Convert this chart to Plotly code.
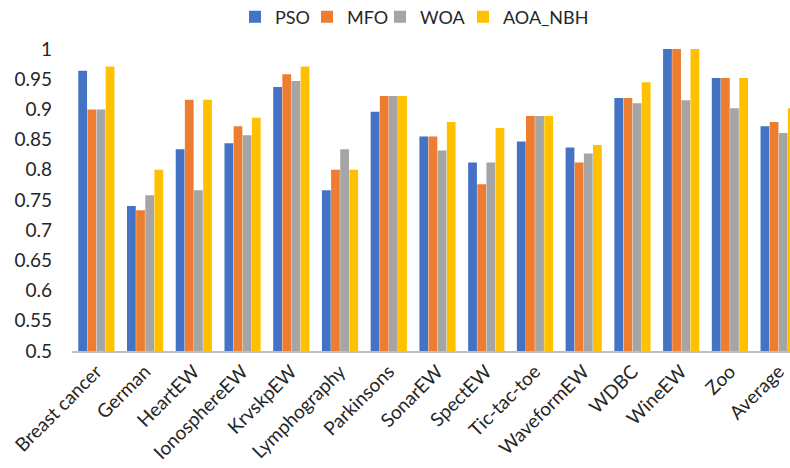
import plotly.graph_objects as go

categories = ["Breast cancer", "German", "HeartEW", "IonosphereEW", "KrvskpEW",
              "Lymphography", "Parkinsons", "SonarEW", "SpectEW", "Tic-tac-toe",
              "WaveformEW", "WDBC", "WineEW", "Zoo", "Average"]

pso = [0.964, 0.740, 0.834, 0.844, 0.937, 0.766, 0.896, 0.855, 0.812, 0.847,
       0.837, 0.919, 1.000, 0.952, 0.872]
mfo = [0.900, 0.733, 0.916, 0.872, 0.958, 0.800, 0.922, 0.855, 0.776, 0.889,
       0.812, 0.919, 1.000, 0.952, 0.879]
woa = [0.900, 0.758, 0.766, 0.857, 0.947, 0.834, 0.922, 0.832, 0.812, 0.889,
       0.827, 0.910, 0.915, 0.902, 0.861]
aoa_nbh = [0.971, 0.800, 0.916, 0.886, 0.971, 0.800, 0.922, 0.879, 0.869, 0.889,
           0.841, 0.945, 1.000, 0.952, 0.902]

series_names = ["PSO", "MFO", "WOA", "AOA_NBH"]
series_values = [pso, mfo, woa, aoa_nbh]
colors = ["#4472C4", "#ED7D31", "#A5A5A5", "#FFC000"]

y_tickvals = [0.5, 0.55, 0.6, 0.65, 0.7, 0.75, 0.8, 0.85, 0.9, 0.95, 1.0]
y_ticktext = ["0.5", "0.55", "0.6", "0.65", "0.7", "0.75", "0.8", "0.85", "0.9", "0.95", "1"]

W, H = 790, 468
FONT = "Lato, 'Open Sans', sans-serif"
TXT = "#262626"

legend_ids = ["legend", "legend2", "legend3", "legend4"]
legend_px = [252, 324, 397, 480]   # approx left edge of each legend swatch

fig = go.Figure()
for name, vals, col, lid in zip(series_names, series_values, colors, legend_ids):
    fig.add_trace(go.Bar(
        x=categories, y=vals, name=name, legend=lid,
        marker=dict(color=col, line=dict(width=0)),
    ))

legend_layout = {}
for lid, px in zip(legend_ids, legend_px):
    legend_layout[lid] = dict(
        orientation="h", xref="container", x=(px - 17) / W, xanchor="left",
        yref="container", y=1 - 17 / H, yanchor="middle",
        font=dict(size=18, color=TXT), itemwidth=30,
        bgcolor="rgba(0,0,0,0)", borderwidth=0,
    )

fig.update_layout(
    width=W, height=H,
    margin=dict(l=72, r=0, t=49, b=117, pad=0, autoexpand=False),
    paper_bgcolor="white", plot_bgcolor="white",
    barmode="group", bargap=0.25, bargroupgap=0.04,
    font=dict(family=FONT, size=18, color=TXT),
    showlegend=True,
    xaxis=dict(
        type="category", range=[-0.5, 14.233], tickangle=-45, automargin=False,
        showline=True, linecolor="#BFBFBF", linewidth=2,
        showgrid=False, ticks="", tickfont=dict(size=19, color=TXT),
    ),
    yaxis=dict(
        range=[0.5, 1.0], tickmode="array", tickvals=y_tickvals, ticktext=y_ticktext,
        automargin=False,
        showgrid=False, zeroline=False, showline=False, ticks="",
        ticklabelstandoff=19, tickfont=dict(size=19, color=TXT),
    ),
    **legend_layout,
)

fig.write_html("out.html",
               config={"displayModeBar": False},
               post_script="document.body.style.margin='0';document.body.style.padding='0';")
